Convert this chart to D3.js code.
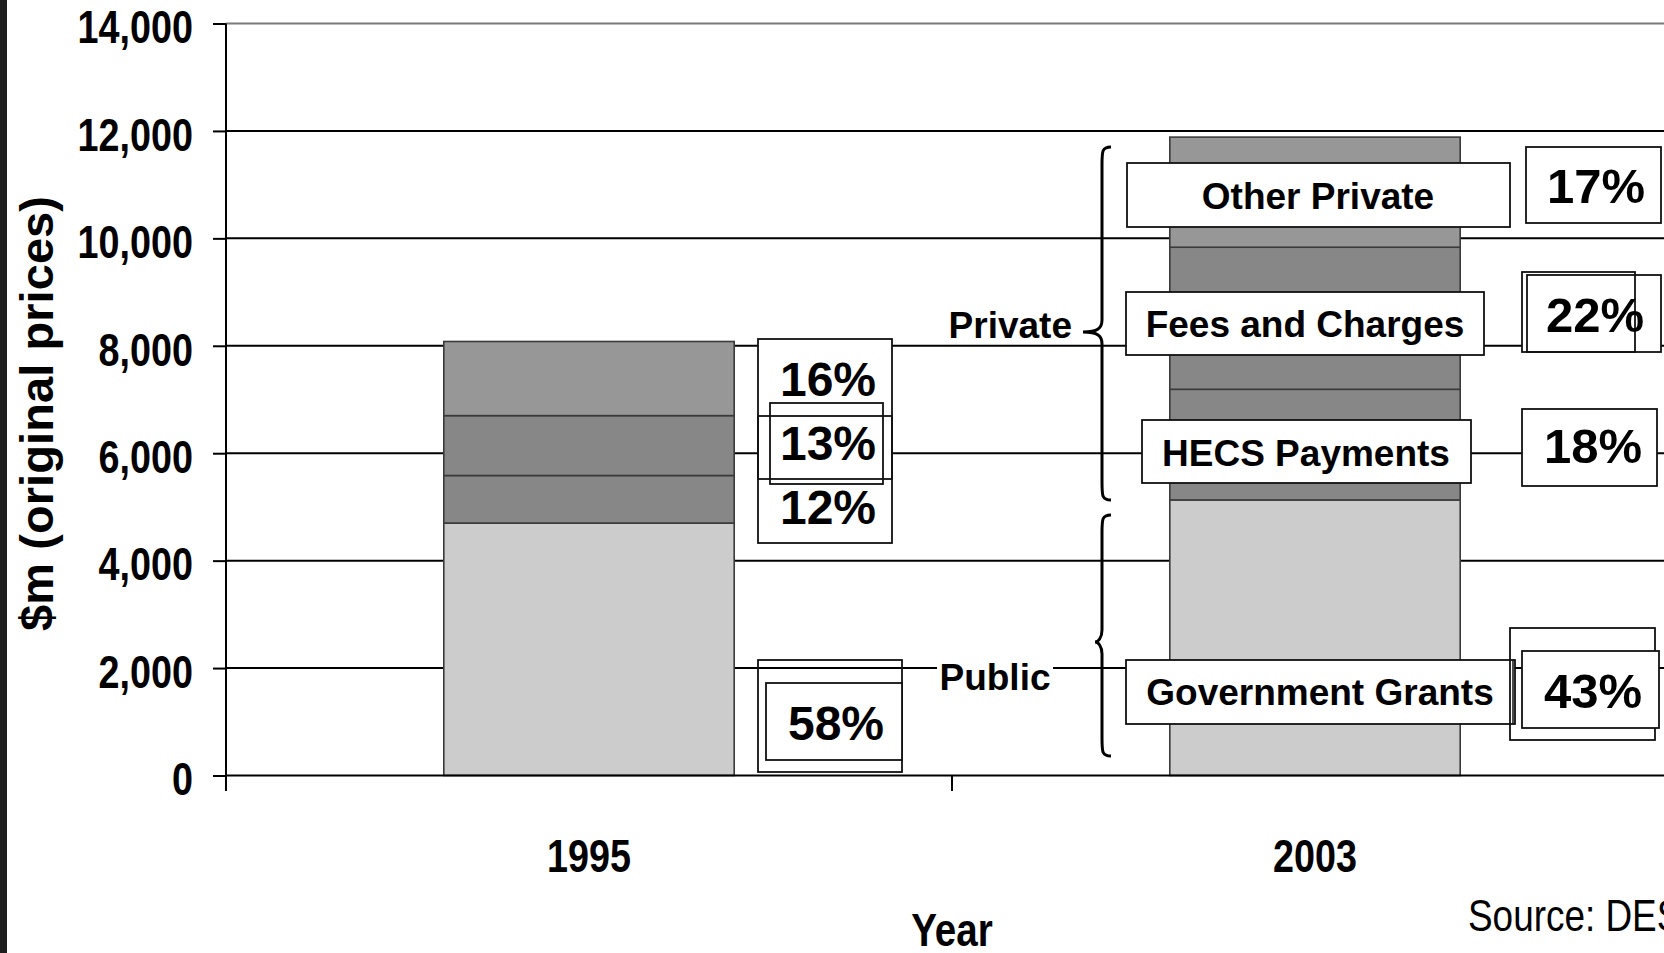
<!DOCTYPE html>
<html>
<head>
<meta charset="utf-8">
<script src="https://cdn.jsdelivr.net/npm/d3@7"></script>
<style>
  html, body { margin: 0; padding: 0; background: #fff; overflow: hidden; }
  svg { display: block; }
</style>
</head>
<body>
<svg id="chart" width="1664" height="953"></svg>
<script>
// ---------------- data ----------------
const categories = ["1995", "2003"];
const seriesNames = ["Government Grants", "HECS Payments", "Fees and Charges", "Other Private"];
const governmentGrants = [4700, 5130];
const hecsPayments = [885, 2060];
const feesAndCharges = [1115, 2645];
const otherPrivate = [1380, 2050];
const shares1995 = ["58%", "12%", "13%", "16%"];
const shares2003 = ["43%", "18%", "22%", "17%"];
const yTicks = [0, 2000, 4000, 6000, 8000, 10000, 12000, 14000];
const groupLabels = ["Public", "Private"];
const axisTitleY = "$m (original prices)";
const axisTitleX = "Year";
const sourceNote = "Source: DEST";

// ---------------- setup ----------------
const W = 1664, H = 953;
const svg = d3.select("#chart");
const seriesColors = ["#cccccc", "#878787", "#878787", "#979797"];

// font detection for condensed face
function hasFont(name) {
  const c = document.createElement("canvas").getContext("2d");
  c.font = "bold 40px monospace";
  const a = c.measureText("14,000 Year abc").width;
  c.font = "bold 40px '" + name + "', monospace";
  const b = c.measureText("14,000 Year abc").width;
  return Math.abs(a - b) > 0.5;
}
const narrowOK = hasFont("Liberation Sans Narrow");
const NARROW = narrowOK ? "'Liberation Sans Narrow', 'Arial Narrow', sans-serif" : "'Liberation Sans', Arial, sans-serif";
function narrowize(sel) {
  sel.style("font-family", NARROW);
  if (!narrowOK) {
    sel.each(function () {
      const w = this.getComputedTextLength();
      d3.select(this).attr("textLength", w * 0.82).attr("lengthAdjust", "spacingAndGlyphs");
    });
  }
}
const SANS = "'Liberation Sans', Arial, Helvetica, sans-serif";

svg.append("rect").attr("width", W).attr("height", H).attr("fill", "#fff");
svg.append("rect").attr("x", 0).attr("y", 0).attr("width", 7).attr("height", H).attr("fill", "#1e1e1e");

const x = d3.scaleBand().domain(categories).range([226, 1678]).paddingInner(0).paddingOuter(0);
const y = d3.scaleLinear().domain([0, 14000]).range([775.5, 23.5]);

// ---------------- gridlines ----------------
svg.append("g").selectAll("line")
  .data(yTicks.filter(d => d > 0))
  .join("line")
  .attr("x1", x.range()[0]).attr("x2", x.range()[1])
  .attr("y1", d => y(d)).attr("y2", d => y(d))
  .attr("stroke", d => d === 14000 ? "#7a7a7a" : "#000")
  .attr("stroke-width", 2);

// ---------------- bars ----------------
const rows = categories.map((c, i) => ({
  cat: c,
  "Government Grants": governmentGrants[i],
  "HECS Payments": hecsPayments[i],
  "Fees and Charges": feesAndCharges[i],
  "Other Private": otherPrivate[i]
}));
const stacked = d3.stack().keys(seriesNames)(rows);
const bw = x.bandwidth() * 0.4;
svg.append("g").selectAll("g")
  .data(stacked)
  .join("g")
  .attr("fill", (d, i) => seriesColors[i])
  .selectAll("rect")
  .data(d => d)
  .join("rect")
  .attr("x", d => x(d.data.cat) + (x.bandwidth() - bw) / 2)
  .attr("width", bw)
  .attr("y", d => y(d[1]))
  .attr("height", d => y(d[0]) - y(d[1]))
  .attr("stroke", "#3a3a3a")
  .attr("stroke-width", 1.6);

// ---------------- annotations ----------------
const ann = svg.append("g");
function box(x1, y1, x2, y2, fill) {
  ann.append("rect").attr("x", x1).attr("y", y1).attr("width", x2 - x1).attr("height", y2 - y1)
    .attr("fill", fill || "none").attr("stroke", fill === "bg" ? "none" : "#111").attr("stroke-width", 1.8)
    .attr("fill", fill === "bg" ? "#fff" : (fill || "none"));
}
function txt(t, cx, by, size, anchor) {
  return ann.append("text").attr("x", cx).attr("y", by).text(t)
    .attr("text-anchor", anchor || "middle")
    .style("font-family", SANS).style("font-weight", "bold").style("font-size", size + "px").attr("fill", "#000");
}

// 1995 percentage boxes
box(758, 339, 892, 543, "bg");
box(758, 339, 892, 479);
box(758, 416, 892, 543);
box(770, 403, 883, 484);
txt(shares1995[3], 828, 396, 48);
txt(shares1995[2], 828, 460, 48);
txt(shares1995[1], 828, 524, 48);
box(758, 660, 902, 772);
box(766, 683, 902, 760, "#fff");
txt(shares1995[0], 836, 740, 48);

// group labels and braces
ann.append("rect").attr("x", 937).attr("y", 652).attr("width", 116).attr("height", 44).attr("fill", "#fff");
txt(groupLabels[0], 995, 690, 37);
txt(groupLabels[1], 1072, 338, 37, "end");

function brace(xe, xs, xt, yTop, yTip, yBot) {
  const r = 12;
  const p = `M${xe},${yTop} C${xs},${yTop} ${xs},${yTop + 4} ${xs},${yTop + r + 6}
             L${xs},${yTip - r} C${xs},${yTip - 4} ${xs - 4},${yTip} ${xt},${yTip}
             C${xs - 4},${yTip} ${xs},${yTip + 4} ${xs},${yTip + r}
             L${xs},${yBot - r - 6} C${xs},${yBot - 4} ${xs},${yBot} ${xe},${yBot}`;
  ann.append("path").attr("d", p).attr("fill", "none").attr("stroke", "#000").attr("stroke-width", 3);
}
brace(1111, 1102, 1083, 147, 332, 500);
brace(1111, 1102, 1095, 515, 642, 756);

// 2003 series label boxes
box(1127, 163, 1510, 227, "#fff");
txt(seriesNames[3], 1318, 209, 37);
box(1126, 292, 1484, 355, "#fff");
txt(seriesNames[2], 1305, 337, 37);
box(1142, 420, 1471, 483, "#fff");
txt(seriesNames[1], 1306, 466, 37);
box(1126, 660, 1515, 724, "#fff");
ann.append("line").attr("x1", 1513).attr("x2", 1513).attr("y1", 660).attr("y2", 724).attr("stroke", "#111").attr("stroke-width", 1.5);
txt(seriesNames[0], 1320, 705, 37);

// 2003 percentage boxes
box(1526, 147, 1661, 223, "#fff");
txt(shares2003[3], 1596, 203, 49);
box(1522, 272, 1661, 352, "bg");
box(1522, 272, 1635, 352);
box(1527, 275, 1661, 352);
txt(shares2003[2], 1595, 332, 49);
box(1522, 409, 1657, 486, "#fff");
txt(shares2003[1], 1593, 463, 49);
box(1510, 628, 1655, 740);
box(1522, 651, 1659, 728, "#fff");
txt(shares2003[0], 1593, 708, 49);

// ---------------- axes ----------------
const yAxis = svg.append("g").attr("transform", "translate(226,0)")
  .call(d3.axisLeft(y).tickValues(yTicks).tickSize(13).tickPadding(20).tickFormat(d3.format(",")));
yAxis.select(".domain").remove();
yAxis.selectAll(".tick line").attr("stroke", "#000").attr("stroke-width", 2);
yAxis.selectAll(".tick text")
  .attr("dy", "0.42em")
  .style("font-weight", "bold").style("font-size", "46px").attr("fill", "#000");
narrowize(yAxis.selectAll(".tick text"));
svg.append("line").attr("x1", 226).attr("x2", 226).attr("y1", y(14000)).attr("y2", 791)
  .attr("stroke", "#000").attr("stroke-width", 2);

// x axis
svg.append("line").attr("x1", x.range()[0]).attr("x2", x.range()[1]).attr("y1", y(0)).attr("y2", y(0))
  .attr("stroke", "#000").attr("stroke-width", 2.2);
const boundaries = categories.map(c => x(c)).concat([x.range()[1]]);
svg.append("g").selectAll("line").data(boundaries).join("line")
  .attr("x1", d => d).attr("x2", d => d).attr("y1", y(0)).attr("y2", 791)
  .attr("stroke", "#000").attr("stroke-width", 2);
const xAxis = svg.append("g").attr("transform", `translate(0,${y(0)})`)
  .call(d3.axisBottom(x).tickSize(0));
xAxis.select(".domain").remove();
xAxis.selectAll(".tick text")
  .attr("y", 96.5).attr("dy", null)
  .style("font-weight", "bold").style("font-size", "46px").attr("fill", "#000");
narrowize(xAxis.selectAll(".tick text"));

// axis titles
const yt = svg.append("text").attr("transform", "translate(53,413.5) rotate(-90)")
  .attr("text-anchor", "middle").text(axisTitleY)
  .style("font-family", SANS).style("font-weight", "bold").style("font-size", "47px")
  .attr("textLength", 435).attr("lengthAdjust", "spacing");
const xt = svg.append("text").attr("x", (x.range()[0] + x.range()[1]) / 2).attr("y", 946)
  .attr("text-anchor", "middle").text(axisTitleX)
  .style("font-weight", "bold").style("font-size", "47px");
narrowize(xt);
const src = svg.append("text").attr("x", 1468).attr("y", 931).text(sourceNote)
  .style("font-size", "45px").attr("fill", "#000");
narrowize(src);
</script>
</body>
</html>
